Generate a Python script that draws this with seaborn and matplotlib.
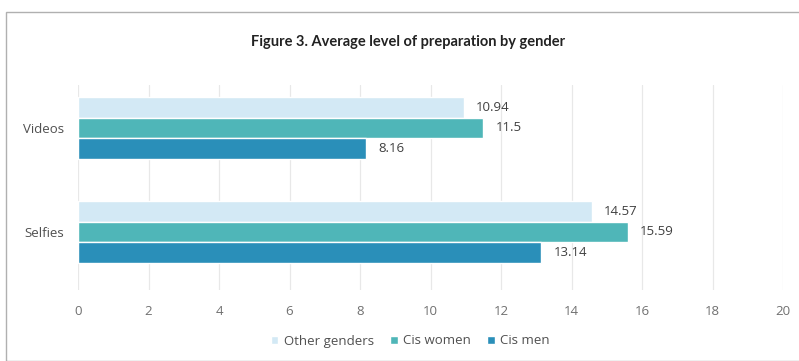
import matplotlib
matplotlib.use("Agg")
import matplotlib.pyplot as plt
import seaborn as sns
import pandas as pd
from matplotlib.patches import Rectangle

categories = ["Videos", "Selfies"]
groups = ["Other genders", "Cis women", "Cis men"]
other_genders = [10.94, 14.57]
cis_women = [11.5, 15.59]
cis_men = [8.16, 13.14]
label_text = {"Other genders": ["10.94", "14.57"], "Cis women": ["11.5", "15.59"], "Cis men": ["8.16", "13.14"]}

rows = []
for g, vals in zip(groups, [other_genders, cis_women, cis_men]):
    for c, v in zip(categories, vals):
        rows.append({"category": c, "group": g, "value": v})
df = pd.DataFrame(rows)

sns.set_style("white")
plt.rcParams["font.family"] = ["Open Sans", "DejaVu Sans"]

palette = {"Other genders": "#d3e9f5", "Cis women": "#4fb6b8", "Cis men": "#2a8fb9"}

fig = plt.figure(figsize=(7.99, 3.61), dpi=100)
ax = fig.add_axes([78/799, 1-290/361, (783-78)/799, (290-85)/361])
sns.barplot(data=df, y="category", x="value", hue="group", hue_order=groups,
            order=categories, palette=palette, orient="h", width=0.6,
            saturation=1, ax=ax, legend=True)

for cont, g in zip(ax.containers, groups):
    ax.bar_label(cont, labels=label_text[g], padding=9, fontsize=9.5, color="#404040")

ax.set_xlim(0, 20)
ax.set_ylim(1.558, -0.413)
ax.set_xticks(range(0, 21, 2))
ax.grid(axis="x", color="#e8e8e8", linewidth=0.9)
ax.set_axisbelow(True)
for s in ax.spines.values():
    s.set_visible(False)
ax.set_xlabel("")
ax.set_ylabel("")
ax.tick_params(axis="x", length=0, pad=11, labelsize=9.5, labelcolor="#707070")
ax.tick_params(axis="y", length=0, pad=10, labelsize=9.5, labelcolor="#505050")

leg = ax.legend(loc="center", bbox_to_anchor=(410/799, 1-341/361), bbox_transform=fig.transFigure,
                ncol=3, frameon=False, fontsize=9.5, handlelength=0.6, handleheight=0.6,
                handletextpad=0.4, columnspacing=1.2, labelcolor="#505050")

fig.text(408/799, 1-42/361, "Figure 3. Average level of preparation by gender",
         ha="center", va="center", fontsize=10.5, fontfamily="Lato", fontweight="bold", color="#222222")

fig.patches.append(Rectangle((6/799, 0.0), 1.0, 1-12/361, transform=fig.transFigure,
                             fill=False, edgecolor="#b0b0b0", linewidth=1))

fig.savefig("out.png", dpi=100)
